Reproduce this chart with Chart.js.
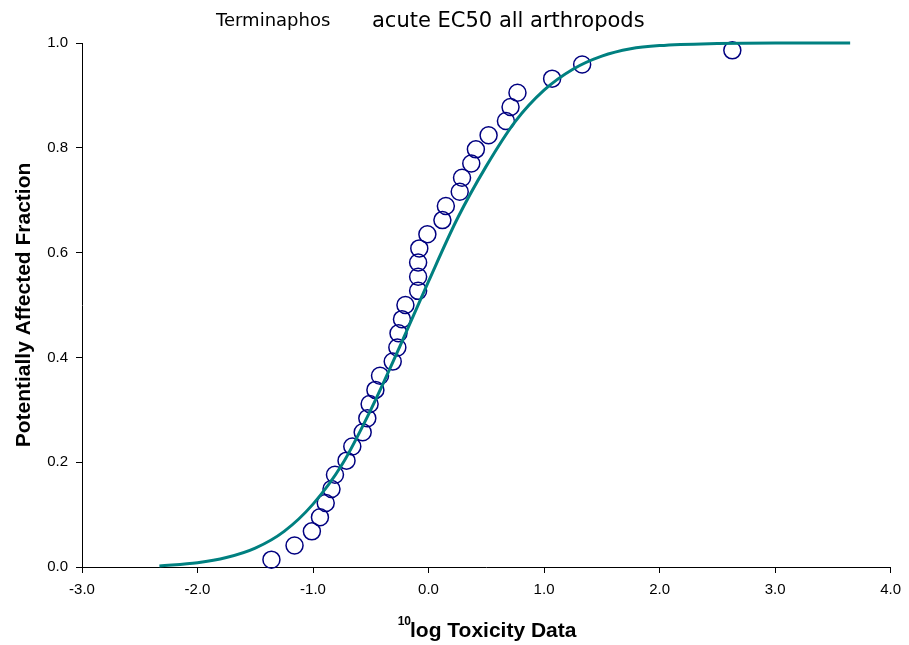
<!DOCTYPE html>
<html>
<head>
<meta charset="utf-8">
<script src="https://cdn.jsdelivr.net/npm/chart.js@4"></script>
<style>
	body { margin: 0; background: #fff; }
	#wrap { width: 909px; height: 645px; position: relative; }
</style>
</head>
<body>
<div id="wrap"><canvas id="ssd-canvas"></canvas></div>
<script>
// observed toxicity data (10log) and plotting positions
const toxX = [-1.36, -1.16, -1.01, -0.94, -0.89, -0.84, -0.81, -0.71, -0.66, -0.57, -0.53, -0.51, -0.46, -0.42,
	-0.31, -0.27, -0.26, -0.23, -0.20, -0.09, -0.09, -0.09, -0.08, -0.01, 0.12, 0.15, 0.27, 0.29, 0.37, 0.41,
	0.52, 0.67, 0.71, 0.77, 1.07, 1.33, 2.63]
const toxY = [0.014, 0.041, 0.068, 0.095, 0.122, 0.149, 0.176, 0.203, 0.230, 0.257, 0.284, 0.311, 0.338, 0.365,
	0.392, 0.419, 0.446, 0.473, 0.500, 0.527, 0.554, 0.581, 0.608, 0.635, 0.662, 0.689, 0.716, 0.743, 0.770, 0.797,
	0.824, 0.851, 0.878, 0.905, 0.932, 0.959, 0.986]

// fitted curve
const curveX = [-2.33, -2.0, -1.75, -1.5, -1.25, -1.0, -0.75, -0.5, -0.25, 0.0, 0.25, 0.5, 0.75, 1.0, 1.25, 1.5, 1.75, 2.0, 2.5, 3.0, 3.65]
const curveY = [0.002, 0.008, 0.018, 0.036, 0.068, 0.12, 0.195, 0.30, 0.42, 0.545, 0.665, 0.765, 0.85, 0.91, 0.95, 0.975, 0.989, 0.995, 0.999, 1.0, 1.0]

// axis ticks
const xTicks = [-3, -2, -1, 0, 1, 2, 3, 4]
const yTicks = [0, 0.2, 0.4, 0.6, 0.8, 1.0]

const titleLeft = "Terminaphos"
const titleRight = "acute EC50 all arthropods"
const yTitle = "Potentially Affected Fraction"
const xTitleSup = "10"
const xTitle = "log Toxicity Data"

// texts drawn on the canvas
const textPlugin = {
	id: "texts",
	afterDraw(chart) {
		const ctx = chart.ctx
		ctx.save()
		ctx.fillStyle = "#000"
		ctx.textBaseline = "alphabetic"
		ctx.textAlign = "left"
		ctx.font = "18px 'DejaVu Sans'"
		ctx.fillText(titleLeft, 216, 26)
		ctx.font = "21px 'DejaVu Sans'"
		ctx.fillText(titleRight, 372, 27)

		ctx.font = "bold 21px 'Liberation Sans'"
		ctx.fillText(xTitle, 410, 637)
		ctx.font = "bold 12px 'Liberation Sans'"
		ctx.textAlign = "right"
		ctx.fillText(xTitleSup, 411, 625)

		ctx.translate(30, 305)
		ctx.rotate(-Math.PI / 2)
		ctx.textAlign = "center"
		ctx.font = "bold 21px 'Liberation Sans'"
		ctx.fillText(yTitle, 0, 0)
		ctx.restore()
	},
}

const createChart = (target) => {
	const config = {
		type: "scatter",
		data: {
			datasets: [
				{
					label: "fit",
					type: "line",
					data: curveX.map((x, i) => ({ x: x, y: curveY[i] })),
					borderColor: "#008080",
					borderWidth: 3,
					pointRadius: 0,
					fill: false,
					cubicInterpolationMode: "monotone",
					clip: false,
				},
				{
					label: "data",
					data: toxX.map((x, i) => ({ x: x, y: toxY[i] })),
					borderColor: "#000080",
					backgroundColor: "rgba(0,0,0,0)",
					borderWidth: 1.5,
					pointRadius: 8.5,
					clip: false,
				},
			],
		},
		options: {
			responsive: true,
			maintainAspectRatio: false,
			animation: false,
			layout: { padding: { top: 43, right: 14, left: 0, bottom: 0 } },
			plugins: {
				legend: { display: false },
				tooltip: { enabled: false },
			},
			scales: {
				x: {
					type: "linear",
					min: xTicks[0],
					max: xTicks[xTicks.length - 1],
					afterBuildTicks: scale => {
						scale.ticks = xTicks.map(v => ({ value: v }))
					},
					afterFit: scale => {
						scale.height = 78
					},
					border: { display: true, color: "#000", width: 1 },
					grid: { display: true, drawOnChartArea: false, drawTicks: true, tickLength: 6, color: "#000" },
					ticks: {
						color: "#000",
						padding: 8,
						font: { family: "Liberation Sans", size: 15 },
						callback: v => v.toFixed(1),
					},
				},
				y: {
					type: "linear",
					min: yTicks[0],
					max: yTicks[yTicks.length - 1],
					afterBuildTicks: scale => {
						scale.ticks = yTicks.map(v => ({ value: v }))
					},
					afterFit: scale => {
						scale.width = 82
					},
					border: { display: true, color: "#000", width: 1 },
					grid: { display: true, drawOnChartArea: false, drawTicks: true, tickLength: 6, color: "#000" },
					ticks: {
						color: "#000",
						padding: 8,
						font: { family: "Liberation Sans", size: 15 },
						callback: v => v.toFixed(1),
					},
				},
			},
		},
		plugins: [textPlugin],
	}

	new Chart(target, config)
}

window.addEventListener("DOMContentLoaded", () => {
	createChart(document.querySelector("#ssd-canvas"))
})
</script>
</body>
</html>
